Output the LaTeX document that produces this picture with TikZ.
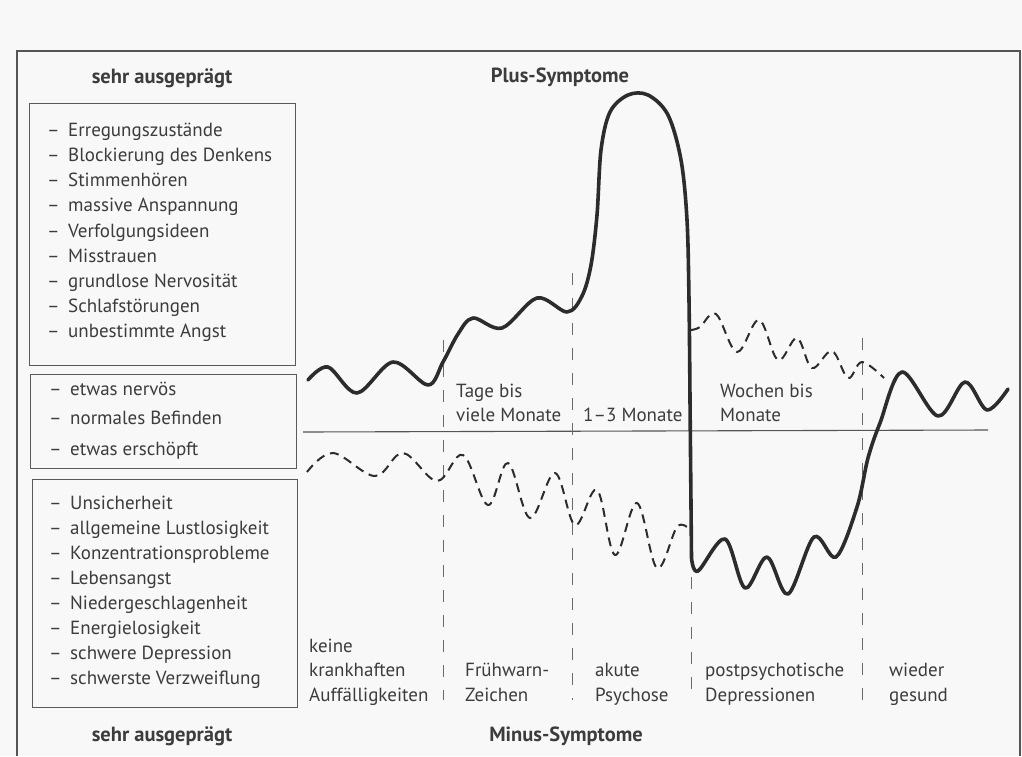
\documentclass[tikz,border=0pt]{standalone}
\usepackage{fontspec}
\setmainfont{PT Sans}
\definecolor{bg}{HTML}{F8F8F8}
\definecolor{txt}{HTML}{3C3C3C}
\definecolor{frm}{HTML}{555555}
\definecolor{box}{HTML}{5A5A5A}
\definecolor{gd}{HTML}{6A6A6A}
\definecolor{crv}{HTML}{2C2C2C}
\newcommand\dashitem[1]{\makebox[21pt][l]{–}#1}
\begin{document}
\begin{tikzpicture}[x=1pt,y=-1pt,
  lbl/.style={inner sep=0pt, text height=13pt, text depth=4pt, anchor=west, text=txt, font=\fontsize{19}{22}\selectfont},
  hdr/.style={inner sep=0pt, text=txt, font=\bfseries\fontsize{20.5}{24}\selectfont},
  frameline/.style={draw=frm, line width=1.2pt},
  boxline/.style={draw=box, line width=1pt},
  guide/.style={draw=gd, line width=0.9pt, dash pattern=on 12pt off 13pt},
  plus/.style={draw=crv, line width=3.6pt, line cap=round, line join=round},
  minus/.style={draw=crv, line width=2pt, dash pattern=on 9pt off 6pt}
]
\fill[bg] (0,0) rectangle (1022,756);
\useasboundingbox (0,0) rectangle (1022,756);
% outer frame
\draw[frameline] (17,756) -- (17,51) -- (1020,51) -- (1020,756);
% headers
\node[hdr] (hdrtop) at (162,78) {sehr ausgeprägt};
\node[hdr] (plus) at (560,77) {Plus-Symptome};
\node[hdr] (hdrbot) at (162,736) {sehr ausgeprägt};
\node[hdr] (minus) at (566,736) {Minus-Symptome};
% boxes
\draw[boxline] (29,103) rectangle (295,365);
\draw[boxline] (30,374) rectangle (296,468);
\draw[boxline] (32,479) rectangle (297,707);
% box lists
\foreach \t [count=\i] in {Erregungszustände,Blockierung des Denkens,Stimmenhören,massive Anspannung,Verfolgungsideen,Misstrauen,grundlose Nervosität,Schlafstörungen,unbestimmte Angst}
  \node[lbl] (pos\i) at (47,{107+25.1*\i}) {\dashitem{\t}};
\node[lbl] (mid1) at (49,391) {\dashitem{etwas nervös}};
\node[lbl] (mid2) at (49,420) {\dashitem{normales Befinden}};
\node[lbl] (mid3) at (49,451) {\dashitem{etwas erschöpft}};
\foreach \t [count=\i] in {Unsicherheit,allgemeine Lustlosigkeit,Konzentrationsprobleme,Lebensangst,Niedergeschlagenheit,Energielosigkeit,schwere Depression,schwerste Verzweiflung}
  \node[lbl] (neg\i) at (49,{480+25*\i}) {\dashitem{\t}};
% axis
\draw[draw=frm, line width=1.1pt] (303,432) -- (988,430);
% phase guides
\draw[guide] (443,340) -- (443,700);
\draw[guide] (572,273) -- (572,700);
\draw[guide] (691,577) -- (691,700);
\draw[guide] (862,338) -- (862,700);
% duration labels
\node[lbl] (d1a) at (456,393) {Tage bis};
\node[lbl] (d1b) at (456,417) {viele Monate};
\node[lbl] (d2) at (583,417) {1–3 Monate};
\node[lbl] (d3a) at (720,393) {Wochen bis};
\node[lbl] (d3b) at (720,417) {Monate};
% phase labels
\node[lbl] (p1a) at (309,648) {keine};
\node[lbl] (p1b) at (309,672) {krankhaften};
\node[lbl] (p1c) at (309,697) {Auffälligkeiten};
\node[lbl] (p2a) at (465,672) {Frühwarn-};
\node[lbl] (p2b) at (465,697) {Zeichen};
\node[lbl] (p3a) at (595,672) {akute};
\node[lbl] (p3b) at (595,697) {Psychose};
\node[lbl] (p4a) at (705,672) {postpsychotische};
\node[lbl] (p4b) at (705,697) {Depressionen};
\node[lbl] (p5a) at (889,672) {wieder};
\node[lbl] (p5b) at (889,697) {gesund};
% minus symptoms (dashed)
\draw[minus] plot[smooth, tension=0.6] coordinates {(307,472) (333,453) (375,476) (403,453) (437,481) (463,455) (488,505) (508,463) (530,518) (555,473) (575,525) (597,490) (615,555) (637,503) (657,568) (677,527) (689,529)};
\draw[minus] plot[smooth, tension=0.6] coordinates {(691,330) (700,327) (716,314) (737,352) (759,320) (778,360) (797,338) (812,368) (832,351) (848,378) (862,362) (884,378)};
% plus symptoms (solid)
\draw[plus] plot[smooth, tension=0.55] coordinates {(308,380) (328,367) (357,393) (393,362) (428,385) (443,362) (458,334) (473,318) (502,328) (537,298) (567,312) (582,296) (591,265) (597,215) (601,150) (610,112) (628,95) (648,95) (668,115) (681,160) (687,220) (689,300) (690,400)}
  -- (691.5,558)
  plot[smooth, tension=0.55] coordinates {(691.5,558) (698,571) (725,539) (745,588) (767,557) (788,594) (814,537) (836,557) (857,507) (868,458) (880,423) (902,372) (938,416) (965,382) (987,410) (1008,389)};
\end{tikzpicture}
\end{document}
